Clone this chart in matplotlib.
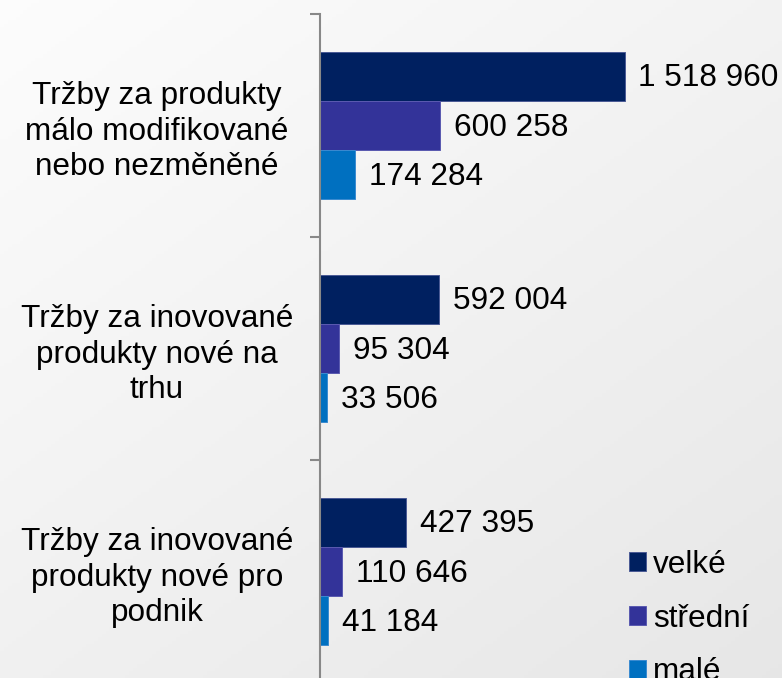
import numpy as np
import matplotlib
matplotlib.use("Agg")
import matplotlib.pyplot as plt

categories = [
    "Tržby za produkty\nmálo modifikované\nnebo nezměněné",
    "Tržby za inovované\nprodukty nové na\ntrhu",
    "Tržby za inovované\nprodukty nové pro\npodnik",
]
series_names = ["velké", "střední", "malé"]
velke = [1518960, 592004, 427395]
stredni = [600258, 95304, 110646]
male = [174284, 33506, 41184]
colors = ["#002060", "#333399", "#0070C0"]
edges = ["#4a5a95", "#5a5ab0", "#3a8ad0"]

plt.rcParams["font.family"] = ["Liberation Sans", "DejaVu Sans"]
FS = 22.7

W, H = 782, 678
fig = plt.figure(figsize=(W / 100, H / 100), dpi=100)

# background gradient
bg = fig.add_axes([0, 0, 1, 1], zorder=-10)
yy, xx = np.mgrid[0:1:200j, 0:1:200j]
g = 0.99 - 0.085 * (0.45 * xx + 0.55 * yy)
bg.imshow(np.dstack([g, g, g]), extent=[0, 1, 0, 1], aspect="auto", origin="upper")
bg.axis("off")

left = 320 / W
top_px, bot_px = 14, 683
ax = fig.add_axes([left, 1 - bot_px / H, 1 - left, (bot_px - top_px) / H])
ax.set_facecolor("none")

h = 49.3 / 223
pos = np.arange(len(categories))
series = [velke, stredni, male]
offsets = [-h, 0, h]
handles = []
for vals, off, c, ec, name in zip(series, offsets, colors, edges, series_names):
    b = ax.barh(pos + off, vals, height=h, color=c, edgecolor=ec, linewidth=0.7, label=name)
    handles.append(b)
    for y, v in zip(pos + off, vals):
        ax.annotate(f"{v:,}".replace(",", " "), xy=(v, y), xytext=(10, -1.5),
                    textcoords="offset points", va="center", ha="left",
                    fontsize=FS, color="black", clip_on=False)

px_per_unit = 2.005e-4
ax.set_xlim(0, (W - 320) / px_per_unit)
ax.set_ylim(len(categories) - 0.5, -0.5)

for s in ["top", "right", "bottom"]:
    ax.spines[s].set_visible(False)
ax.spines["left"].set_color("#888888")
ax.spines["left"].set_linewidth(1.5)
ax.set_xticks([])
ax.set_yticks(np.arange(len(categories) + 1) - 0.5)
ax.set_yticklabels([])
ax.tick_params(axis="y", which="major", length=7.2, width=1.5, color="#888888")
ax.set_yticks(pos, minor=True)
ax.set_yticklabels(categories, minor=True, fontsize=FS, ha="center",
                   multialignment="center", linespacing=1.24)
ax.tick_params(axis="y", which="minor", length=0, pad=(320 - 157) * 0.72)

leg = fig.legend(handles=handles, labels=series_names, loc="upper left",
                 bbox_to_anchor=(629 / W, 1 - 550 / H), frameon=False,
                 fontsize=FS, handlelength=0.55, handleheight=0.55,
                 handletextpad=0.22, labelspacing=0.75, borderpad=0, borderaxespad=0)

fig.savefig("out.png", dpi=100)
